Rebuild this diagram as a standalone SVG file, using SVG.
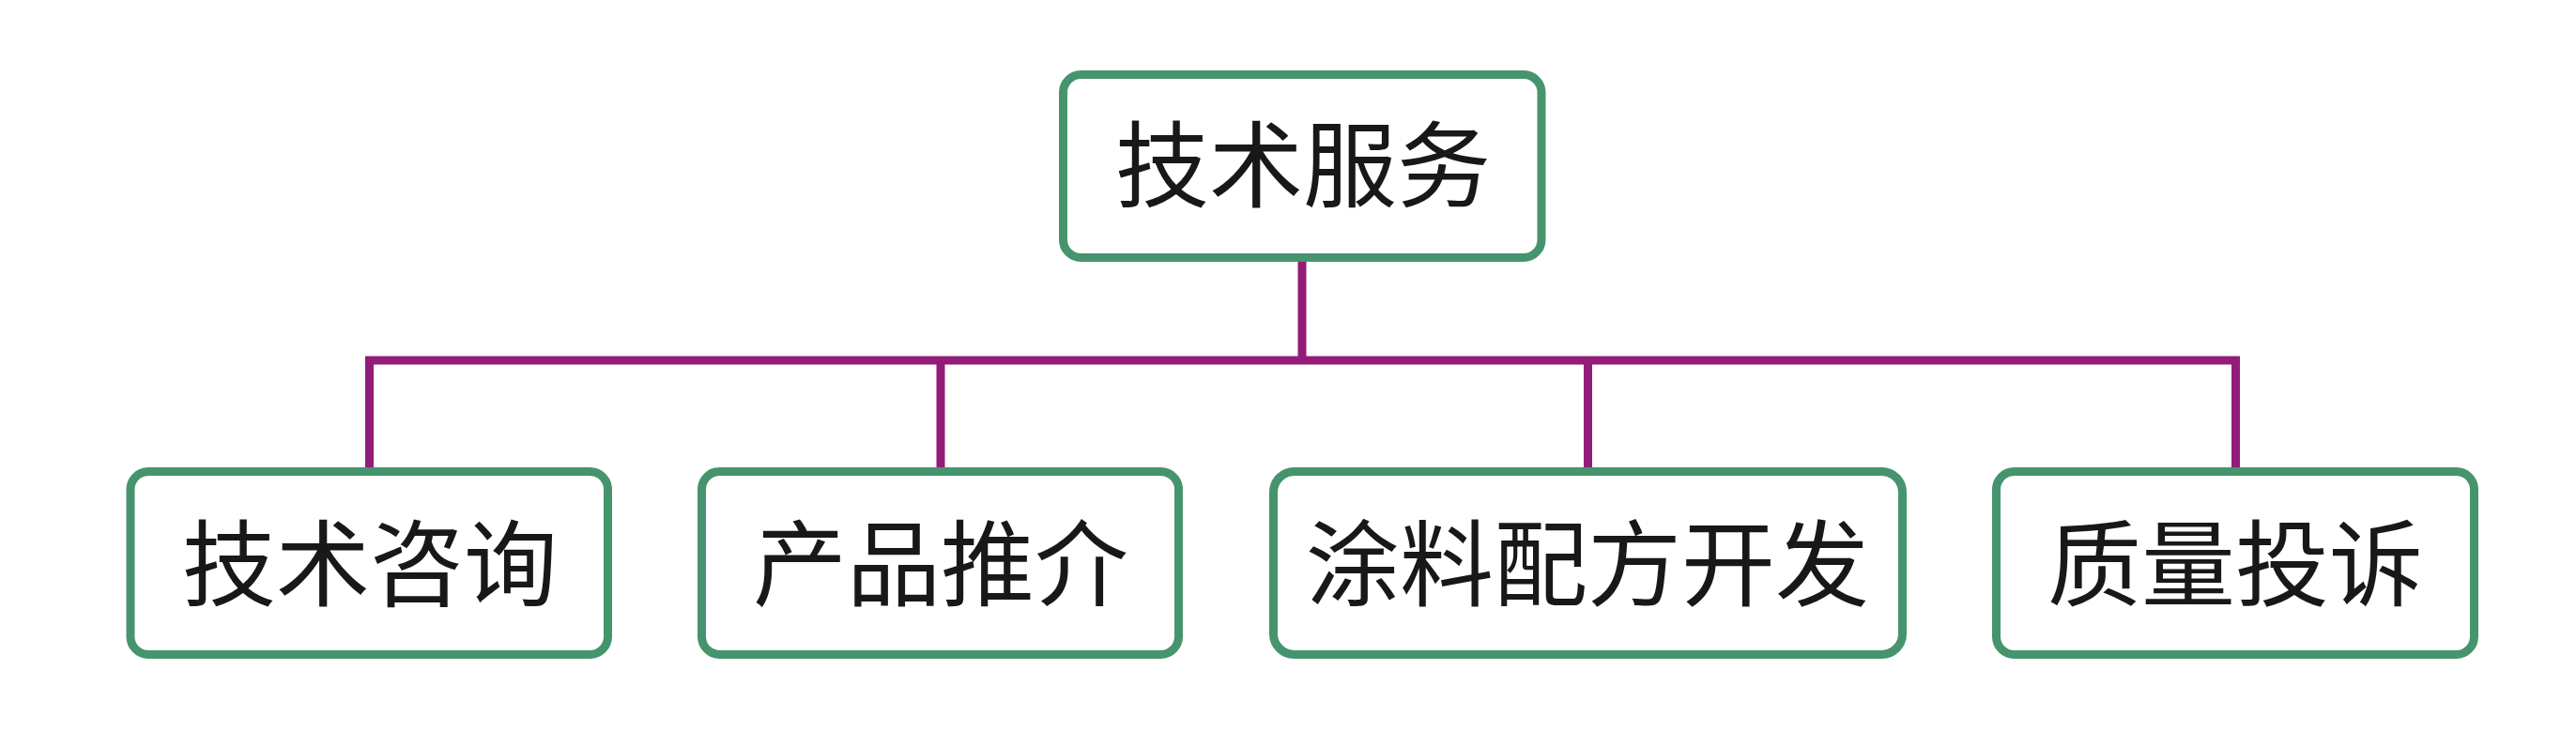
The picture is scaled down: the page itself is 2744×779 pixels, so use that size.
<svg xmlns="http://www.w3.org/2000/svg" width="2744" height="779" viewBox="0 0 2744 779">
<style>
.box{fill:#ffffff;stroke:#46946D;stroke-width:9}
.lbl{font-family:"Noto Sans CJK SC","Noto Sans",sans-serif;font-size:100px;fill:#1a1718;text-anchor:middle}
.con{stroke:#931C78;stroke-width:9;fill:none;stroke-linecap:butt}
</style>
<rect width="2744" height="779" fill="#ffffff"/>
<g id="connectors">
<line class="con" x1="1387" y1="279" x2="1387" y2="384"/>
<line class="con" x1="389" y1="384" x2="2386" y2="384"/>
<line class="con" x1="393.5" y1="384" x2="393.5" y2="498"/>
<line class="con" x1="1002" y1="384" x2="1002" y2="498"/>
<line class="con" x1="1691.5" y1="384" x2="1691.5" y2="498"/>
<line class="con" x1="2381.5" y1="384" x2="2381.5" y2="498"/>
</g>
<g id="node-root">
<rect class="box" x="1132.5" y="79.5" width="509.5" height="195" rx="19"/>
<text class="lbl" x="1388" y="213">技术服务</text>
</g>
<g id="node-1">
<rect class="box" x="139" y="502.5" width="508.5" height="195" rx="19"/>
<text class="lbl" x="394" y="638">技术咨询</text>
</g>
<g id="node-2">
<rect class="box" x="747.5" y="502.5" width="508" height="195" rx="19"/>
<text class="lbl" x="1002" y="638">产品推介</text>
</g>
<g id="node-3">
<rect class="box" x="1356.5" y="502.5" width="670" height="195" rx="22"/>
<text class="lbl" x="1691" y="638">涂料配方开发</text>
</g>
<g id="node-4">
<rect class="box" x="2126.5" y="502.5" width="509" height="195" rx="19"/>
<text class="lbl" x="2381" y="638">质量投诉</text>
</g>
</svg>
